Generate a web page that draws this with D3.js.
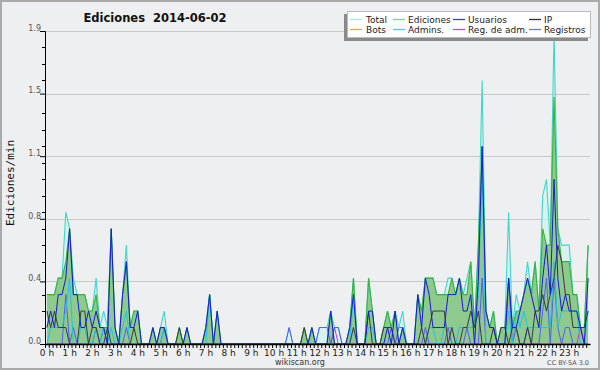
<!DOCTYPE html>
<html>
<head>
<meta charset="utf-8">
<script src="https://cdn.jsdelivr.net/npm/d3@7"></script>
<style>
  body { margin: 0; background: #fff; }
</style>
</head>
<body>
<div id="chart"></div>
<script>
// 10-minute bins over the day, values in edits per minute (one row per hour)
const total = [
  0.3,0.3,0.3,0.4,0.4,0.8, 0.7,0.4,0.3,0.3,0.3,0.2, 0.2,0.4,0.1,0.2,0.1,0.7, 0.1,0.0,0.3,0.6,0.1,0.2,
  0.2,0.0,0.0,0.0,0.1,0.0, 0.1,0.2,0.0,0.0,0.0,0.1, 0.0,0.1,0.0,0.0,0.0,0.0, 0.1,0.3,0.0,0.2,0.0,0.0,
  0.0,0.0,0.0,0.0,0.0,0.0, 0.0,0.0,0.0,0.0,0.0,0.0, 0.0,0.0,0.0,0.0,0.1,0.0, 0.0,0.0,0.1,0.0,0.1,0.0,
  0.1,0.1,0.1,0.2,0.1,0.1, 0.0,0.0,0.1,0.4,0.0,0.0, 0.0,0.4,0.2,0.0,0.0,0.1, 0.2,0.1,0.2,0.1,0.2,0.0,
  0.0,0.0,0.3,0.2,0.4,0.4, 0.4,0.3,0.3,0.3,0.4,0.4, 0.3,0.4,0.3,0.4,0.5,0.1, 0.6,1.6,0.2,0.1,0.2,0.0,
  0.1,0.1,0.8,0.1,0.3,0.2, 0.3,0.5,0.3,0.5,0.2,0.9, 1.0,0.6,1.9,0.7,0.6,0.6, 0.6,0.3,0.3,0.1,0.1,0.6
];
const ediciones = [
  0.3,0.3,0.3,0.4,0.4,0.5, 0.7,0.3,0.3,0.3,0.3,0.2, 0.2,0.3,0.1,0.1,0.1,0.7, 0.1,0.0,0.3,0.5,0.1,0.2,
  0.2,0.0,0.0,0.0,0.1,0.0, 0.1,0.1,0.0,0.0,0.0,0.1, 0.0,0.1,0.0,0.0,0.0,0.0, 0.1,0.3,0.0,0.2,0.0,0.0,
  0.0,0.0,0.0,0.0,0.0,0.0, 0.0,0.0,0.0,0.0,0.0,0.0, 0.0,0.0,0.0,0.0,0.0,0.0, 0.0,0.0,0.1,0.0,0.1,0.0,
  0.0,0.0,0.0,0.2,0.0,0.0, 0.0,0.0,0.1,0.4,0.0,0.0, 0.0,0.4,0.2,0.0,0.0,0.1, 0.2,0.1,0.2,0.0,0.1,0.0,
  0.0,0.0,0.3,0.2,0.4,0.4, 0.4,0.3,0.3,0.3,0.3,0.4, 0.3,0.4,0.3,0.3,0.5,0.1, 0.6,1.2,0.2,0.1,0.2,0.0,
  0.1,0.1,0.4,0.1,0.2,0.2, 0.3,0.4,0.3,0.5,0.2,0.7, 0.6,0.6,1.5,0.7,0.5,0.5, 0.5,0.3,0.3,0.1,0.1,0.6
];
const usuarios = [
  0.1,0.2,0.1,0.3,0.3,0.4, 0.7,0.3,0.3,0.1,0.1,0.2, 0.1,0.2,0.1,0.1,0.0,0.7, 0.1,0.0,0.3,0.5,0.1,0.1,
  0.2,0.0,0.0,0.0,0.1,0.0, 0.1,0.1,0.0,0.0,0.0,0.0, 0.0,0.1,0.0,0.0,0.0,0.0, 0.1,0.3,0.0,0.2,0.0,0.0,
  0.0,0.0,0.0,0.0,0.0,0.0, 0.0,0.0,0.0,0.0,0.0,0.0, 0.0,0.0,0.0,0.0,0.0,0.0, 0.0,0.0,0.0,0.0,0.1,0.0,
  0.0,0.0,0.0,0.2,0.0,0.0, 0.0,0.0,0.1,0.3,0.0,0.0, 0.0,0.2,0.2,0.0,0.0,0.0, 0.1,0.0,0.2,0.0,0.1,0.0,
  0.0,0.0,0.3,0.1,0.4,0.3, 0.1,0.1,0.1,0.1,0.3,0.3, 0.3,0.4,0.2,0.2,0.3,0.0, 0.4,1.2,0.2,0.1,0.1,0.0,
  0.0,0.0,0.4,0.1,0.1,0.2, 0.3,0.4,0.3,0.2,0.1,0.4, 0.6,0.3,1.0,0.4,0.2,0.3, 0.2,0.2,0.2,0.1,0.0,0.4
];
const ip = [
  0.2,0.1,0.2,0.1,0.1,0.1, 0.0,0.0,0.0,0.2,0.2,0.0, 0.1,0.1,0.0,0.0,0.1,0.0, 0.0,0.0,0.0,0.0,0.0,0.1,
  0.0,0.0,0.0,0.0,0.0,0.0, 0.0,0.0,0.0,0.0,0.0,0.1, 0.0,0.0,0.0,0.0,0.0,0.0, 0.0,0.0,0.0,0.0,0.0,0.0,
  0.0,0.0,0.0,0.0,0.0,0.0, 0.0,0.0,0.0,0.0,0.0,0.0, 0.0,0.0,0.0,0.0,0.0,0.0, 0.0,0.0,0.1,0.0,0.0,0.0,
  0.0,0.0,0.0,0.0,0.0,0.0, 0.0,0.0,0.0,0.1,0.0,0.0, 0.0,0.2,0.0,0.0,0.0,0.1, 0.1,0.1,0.0,0.0,0.0,0.0,
  0.0,0.0,0.0,0.1,0.0,0.1, 0.2,0.2,0.2,0.2,0.0,0.1, 0.0,0.0,0.1,0.1,0.2,0.1, 0.2,0.0,0.0,0.0,0.1,0.0,
  0.1,0.1,0.0,0.1,0.1,0.0, 0.0,0.1,0.0,0.2,0.2,0.3, 0.2,0.3,0.4,0.6,0.5,0.3, 0.3,0.1,0.1,0.1,0.1,0.2
];
const bots = [
  0,0,0,0,0,0, 0,0,0,0,0,0, 0,0,0,0,0,0, 0,0,0,0,0,0, 0,0,0,0,0,0, 0,0,0,0,0,0,
  0,0,0,0,0,0, 0,0,0,0,0,0, 0,0,0,0,0,0, 0,0,0,0,0,0, 0,0,0,0,0,0, 0,0,0,0,0,0,
  0,0,0,0,0,0, 0,0,0,0,0,0, 0,0,0,0,0,0, 0,0,0,0,0,0, 0,0,0,0,0,0, 0,0,0,0,0,0,
  0,0,0,0,0,0, 0,0,0,0,0,0, 0,0,0,0,0,0, 0,0,0,0,0,0, 0,0,0,0,0,0, 0,0,0,0,0,0
];
const admins = [
  0.0,0.1,0.1,0.1,0.1,0.2, 0.4,0.0,0.0,0.1,0.1,0.0, 0.0,0.1,0.0,0.1,0.0,0.1, 0.0,0.0,0.1,0.2,0.0,0.0,
  0.0,0.0,0.0,0.0,0.0,0.0, 0.0,0.1,0.0,0.0,0.0,0.0, 0.0,0.0,0.0,0.0,0.0,0.0, 0.0,0.3,0.0,0.0,0.0,0.0,
  0.0,0.0,0.0,0.0,0.0,0.0, 0.0,0.0,0.0,0.0,0.0,0.0, 0.0,0.0,0.0,0.0,0.0,0.0, 0.0,0.0,0.0,0.0,0.0,0.0,
  0.0,0.0,0.0,0.0,0.0,0.0, 0.0,0.0,0.0,0.3,0.0,0.0, 0.0,0.1,0.1,0.0,0.0,0.0, 0.0,0.0,0.0,0.0,0.1,0.0,
  0.0,0.0,0.0,0.0,0.0,0.1, 0.1,0.0,0.0,0.1,0.1,0.1, 0.0,0.1,0.1,0.1,0.1,0.1, 0.3,1.1,0.0,0.0,0.0,0.0,
  0.0,0.0,0.2,0.0,0.2,0.1, 0.2,0.1,0.1,0.1,0.1,0.1, 0.1,0.1,0.5,0.1,0.2,0.2, 0.2,0.2,0.2,0.0,0.0,0.2
];
const regAdm = [
  0,0,0,0,0,0, 0,0,0,0,0,0, 0,0,0,0,0,0, 0,0,0,0,0,0, 0,0,0,0,0,0, 0,0,0,0,0,0,
  0,0,0,0,0,0, 0,0,0,0,0,0, 0,0,0,0,0,0, 0,0,0,0,0,0, 0,0,0,0,0,0, 0,0,0,0,0,0,
  0,0,0,0,0.1,0, 0,0,0,0,0,0, 0,0,0,0,0,0, 0,0,0,0,0,0, 0,0,0,0,0,0, 0,0,0,0,0,0,
  0,0,0,0,0,0, 0,0,0,0,0,0, 0,0,0,0,0,0, 0,0,0,0,0,0, 0,0,0,0,0,0, 0,0,0,0.1,0,0
];
const registros = [
  0.0,0.0,0.0,0.0,0.0,0.3, 0.0,0.1,0.0,0.0,0.0,0.0, 0.0,0.1,0.0,0.1,0.0,0.0, 0.0,0.0,0.0,0.1,0.0,0.0,
  0.0,0.0,0.0,0.0,0.0,0.0, 0.0,0.1,0.0,0.0,0.0,0.0, 0.0,0.0,0.0,0.0,0.0,0.0, 0.0,0.0,0.0,0.0,0.0,0.0,
  0.0,0.0,0.0,0.0,0.0,0.0, 0.0,0.0,0.0,0.0,0.0,0.0, 0.0,0.0,0.0,0.0,0.1,0.0, 0.0,0.0,0.0,0.0,0.0,0.0,
  0.1,0.1,0.1,0.0,0.1,0.1, 0.0,0.0,0.0,0.0,0.0,0.0, 0.0,0.0,0.0,0.0,0.0,0.0, 0.0,0.1,0.0,0.1,0.1,0.0,
  0.0,0.0,0.0,0.0,0.1,0.0, 0.0,0.0,0.0,0.0,0.1,0.0, 0.0,0.0,0.0,0.1,0.0,0.0, 0.0,0.4,0.0,0.0,0.0,0.0,
  0.0,0.0,0.4,0.0,0.1,0.0, 0.0,0.1,0.0,0.0,0.0,0.2, 0.4,0.0,0.4,0.1,0.0,0.1, 0.1,0.0,0.0,0.0,0.0,0.0
];

const legendNames = ["Total", "Ediciones", "Usuarios", "IP", "Bots", "Admins.", "Reg. de adm.", "Registros"];
const legendColors = ["#a8e6e6", "#86cf86", "#3a3ae0", "#333333", "#f0a040", "#3fcfe0", "#d044d0", "#7474f0"];
const hourLabels = d3.range(24).map(h => h + " h");
const yMax = 1.9;

const width = 600, height = 370;
const plot = { left: 45, right: 590, top: 31, bottom: 344 };

// bin centres, in minutes since midnight
const minutes = total.map((d, i) => i * 10 + 5);

const x = d3.scaleLinear().domain([0, 1440]).range([plot.left, plot.right]);
const y = d3.scaleLinear().domain([0, yMax]).range([plot.bottom, plot.top]);

const svg = d3.select("#chart")
    .append("svg")
    .attr("width", width)
    .attr("height", height)
    .style("font-family", "DejaVu Sans");

svg.append("rect")
    .attr("x", 1).attr("y", 1)
    .attr("width", width - 2).attr("height", height - 2)
    .attr("fill", "#eeeff0")
    .attr("stroke", "#a9a9a9")
    .attr("stroke-width", 2);

// grid
const majorTicks = d3.range(6).map(i => yMax * i / 5);
svg.append("g")
    .selectAll("line")
    .data(majorTicks.slice(1))
    .join("line")
    .attr("x1", plot.left).attr("x2", plot.right)
    .attr("y1", d => Math.round(y(d)) + 0.5).attr("y2", d => Math.round(y(d)) + 0.5)
    .attr("stroke", "#c9c9c9");

const line = d3.line().x((d, i) => x(minutes[i])).y(d => y(d));
const area = d3.area().x((d, i) => x(minutes[i])).y0(y(0)).y1(d => y(d));

// areas first, lines on top
svg.append("path").datum(total)
    .attr("d", area).attr("fill", "#d2f2f2").attr("fill-opacity", 0.7);
svg.append("path").datum(ediciones)
    .attr("d", area).attr("fill", "#8ec98e");
svg.append("path").datum(total)
    .attr("d", line).attr("fill", "none").attr("stroke", "#3ed8c8").attr("stroke-width", 1.1);
svg.append("path").datum(ediciones)
    .attr("d", line).attr("fill", "none").attr("stroke", "#38b438").attr("stroke-width", 1.1);

const lines = [
    { data: bots, color: "#f0a040" },
    { data: regAdm, color: "#d030d0" },
    { data: registros, color: "#5a5af4" },
    { data: admins, color: "#1fc4e4" },
    { data: ip, color: "#3a3a3a" },
    { data: usuarios, color: "#1818dc" }
];
lines.forEach(s => {
    svg.append("path").datum(s.data)
        .attr("d", line)
        .attr("fill", "none")
        .attr("stroke", s.color)
        .attr("stroke-width", 1);
});

// y axis
const yAxis = d3.axisLeft(y)
    .tickValues(majorTicks)
    .tickSize(5)
    .tickFormat(d3.format(".1f"));
const gy = svg.append("g")
    .attr("transform", "translate(" + plot.left + ",0)")
    .call(yAxis);
gy.select(".domain").attr("stroke", "#000");
gy.selectAll(".tick line").attr("stroke", "#000");
gy.selectAll("text")
    .attr("font-family", "DejaVu Sans")
    .attr("font-size", 8)
    .attr("fill", "#555")
    .attr("x", -4)
    .attr("dy", "-0.1em");

svg.append("g")
    .selectAll("line")
    .data(d3.range(1, 19).map(i => i / 10).filter(v => majorTicks.every(m => Math.abs(m - v) > 0.03)))
    .join("line")
    .attr("x1", plot.left - 3).attr("x2", plot.left)
    .attr("y1", d => Math.round(y(d)) + 0.5).attr("y2", d => Math.round(y(d)) + 0.5)
    .attr("stroke", "#000");

// x axis: a tick every 10 minutes, label every hour
const xAxis = d3.axisBottom(x)
    .tickValues(d3.range(0, 1440, 10))
    .tickSize(4)
    .tickSizeOuter(0)
    .tickFormat("");
const gx = svg.append("g")
    .attr("transform", "translate(0," + plot.bottom + ")")
    .call(xAxis);
gx.select(".domain").attr("stroke", "#000").attr("stroke-width", 1.6);
gx.selectAll(".tick line").attr("stroke", "#000");

svg.append("g")
    .selectAll("text")
    .data(hourLabels)
    .join("text")
    .attr("x", (d, i) => x(i * 60) + 2)
    .attr("y", 356)
    .attr("text-anchor", "middle")
    .attr("font-size", 9)
    .attr("fill", "#222")
    .text(d => d);

// titles
svg.append("text")
    .attr("x", 155).attr("y", 22)
    .attr("text-anchor", "middle")
    .attr("font-size", 11.5)
    .attr("font-weight", "bold")
    .attr("fill", "#111")
    .style("white-space", "pre")
    .text("Ediciones  2014-06-02");

svg.append("text")
    .attr("transform", "translate(14,183) rotate(-90)")
    .attr("text-anchor", "middle")
    .attr("font-family", "DejaVu Sans Mono")
    .attr("font-size", 11)
    .attr("fill", "#111")
    .text("Ediciones/min");

svg.append("text")
    .attr("x", 300).attr("y", 365)
    .attr("text-anchor", "middle")
    .attr("font-size", 8)
    .attr("fill", "#333")
    .text("wikiscan.org");

svg.append("text")
    .attr("x", 589).attr("y", 365)
    .attr("text-anchor", "end")
    .attr("font-size", 6.5)
    .attr("fill", "#555")
    .text("CC BY-SA 3.0");

// legend
const legend = svg.append("g");
legend.append("rect")
    .attr("x", 344).attr("y", 14).attr("width", 244).attr("height", 27)
    .attr("fill", "#8a8a8a");
legend.append("rect")
    .attr("x", 347.5).attr("y", 11.5).attr("width", 243).attr("height", 26)
    .attr("fill", "#fff").attr("stroke", "#bbb");

const colLine = [350, 393, 453, 529];
const colText = [366, 408, 468, 544];
legend.selectAll("line.key")
    .data(legendNames)
    .join("line")
    .attr("class", "key")
    .attr("x1", (d, i) => colLine[i % 4])
    .attr("x2", (d, i) => colLine[i % 4] + 12)
    .attr("y1", (d, i) => i < 4 ? 19.5 : 29.5)
    .attr("y2", (d, i) => i < 4 ? 19.5 : 29.5)
    .attr("stroke", (d, i) => legendColors[i])
    .attr("stroke-width", 1.3);
legend.selectAll("text.key")
    .data(legendNames)
    .join("text")
    .attr("class", "key")
    .attr("x", (d, i) => colText[i % 4])
    .attr("y", (d, i) => (i < 4 ? 19.5 : 29.5) + 3.5)
    .attr("font-size", 9)
    .attr("fill", "#222")
    .text(d => d);
</script>
</body>
</html>
